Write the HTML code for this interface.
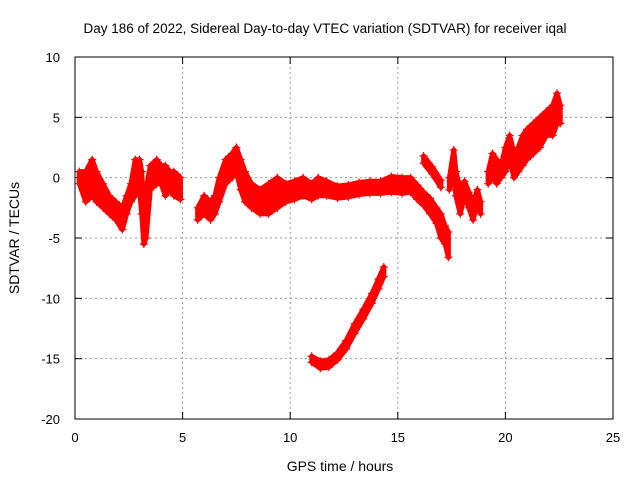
<!DOCTYPE html>
<html><head><meta charset="utf-8"><style>
body{margin:0;background:#fff}
svg{display:block;font-family:"Liberation Sans",sans-serif}
</style></head><body>
<svg id="chart" width="640" height="480" viewBox="0 0 640 480" xmlns="http://www.w3.org/2000/svg">
<text x="325" y="33" font-size="13.5" text-anchor="middle">Day 186 of 2022, Sidereal Day-to-day VTEC variation (SDTVAR) for receiver iqal</text>
<g id="grid"></g>
<g id="ticks"></g>
<g id="series"></g>
<rect x="75" y="57" width="538" height="362" fill="none" stroke="#000" stroke-width="1"/>
<text x="340" y="471" font-size="14" text-anchor="middle">GPS time / hours</text>
<text transform="translate(19,238) rotate(-90)" font-size="14" text-anchor="middle">SDTVAR / TECUs</text>
</svg>
<script>
const xTicks=[0,5,10,15,20,25];
const yTicks=[10,5,0,-5,-10,-15,-20];
// [time, low, high]
const bandA=[[0.2,-0.5,0.5],[0.5,-2,0.5],[0.8,-1.5,1.5],[1.0,-2,0.5],[1.3,-2.5,-0.5],[1.6,-3,-1.5],[1.9,-3.5,-2],[2.2,-4.3,-2.5],[2.4,-3,-1.5],[2.6,-2,-0.5],[2.8,-1.5,1.5],[3.0,-1,1.5],[3.1,-3,0.5],[3.2,-5.5,-3],[3.3,-5,-1],[3.5,-1,1],[3.8,-0.5,1.5],[4.0,-0.5,1],[4.2,-1.5,1],[4.4,-1,0.5],[4.6,-1.5,0.5],[4.9,-1.8,0]];
const bandB=[[5.7,-3.5,-2.5],[6.0,-3,-1.5],[6.3,-3.5,-2],[6.5,-3,-1.5],[6.7,-2,0],[7.0,-0.5,1.5],[7.3,0,2],[7.5,0.5,2.5],[7.7,-1,1.5],[7.9,-2,0.5],[8.2,-2.5,-0.5],[8.6,-3,-1],[9.0,-3,-0.5],[9.4,-2.5,0],[9.8,-2,-0.5],[10.2,-1.8,-0.3],[10.6,-1.5,0],[11.0,-1.8,-0.5],[11.3,-1.5,0],[11.7,-1.5,-0.3],[12.2,-1.7,-0.7],[12.7,-1.6,-0.6],[13.2,-1.4,-0.4],[13.7,-1.3,-0.3],[14.2,-1.3,-0.3],[14.7,-1.2,0.1],[15.2,-1.3,0],[15.6,-1.2,0],[15.9,-1.8,-0.6],[16.2,-2.3,-1.2],[16.5,-3,-1.7],[16.8,-3.8,-2.5],[17.0,-5,-3],[17.2,-5.5,-4],[17.35,-6.6,-4.5]];
const bandC=[[11.0,-15.3,-14.8],[11.4,-15.8,-15.2],[11.8,-15.7,-15.1],[12.2,-15.1,-14.5],[12.6,-14.2,-13.5],[13.0,-12.9,-12.1],[13.4,-11.7,-10.9],[13.8,-10.4,-9.6],[14.1,-9.2,-8.4],[14.35,-8.2,-7.4]];
const bandD=[[16.2,1.2,1.8],[16.6,0.3,0.9],[17.0,-0.8,-0.2]];
const bandE=[[17.4,-1,0],[17.6,0.5,2.3],[17.7,-1.5,0.5],[17.9,-3,-1],[18.1,-1.5,-0.3],[18.3,-2.5,-1.2],[18.5,-3.5,-2],[18.7,-2,-1],[18.85,-3,-2]];
const bandF=[[19.2,-0.5,0.5],[19.4,0,2],[19.6,-0.5,1.5],[19.8,0,1],[20.0,0.5,2.5],[20.2,1.5,3.5],[20.4,0,2],[20.6,0.5,2.5],[20.8,1,3.5],[21.0,1.5,4],[21.3,2,4.5],[21.6,2.5,5],[21.9,3.5,5.5],[22.2,3.5,6],[22.4,4.5,7],[22.55,4.5,6]];
const bands=[bandA,bandB,bandC,bandD,bandE,bandF];
const NS="http://www.w3.org/2000/svg";
const X=t=>75+t*538/25;
const Y=v=>57+(10-v)*362/30;
function mk(tag,at,parent){const e=document.createElementNS(NS,tag);for(const k in at)e.setAttribute(k,at[k]);parent.appendChild(e);return e;}
const grid=document.getElementById('grid'),ticks=document.getElementById('ticks'),series=document.getElementById('series');
xTicks.forEach(t=>{
  if(t>0&&t<25){const l=mk('line',{x1:X(t),x2:X(t),y1:57,y2:419,stroke:'#999','stroke-dasharray':'2,3'},grid);
  
  }
  mk('line',{x1:X(t),x2:X(t),y1:419,y2:412,stroke:'#000'},ticks);
  mk('line',{x1:X(t),x2:X(t),y1:57,y2:64,stroke:'#000'},ticks);
  const tx=mk('text',{x:X(t),y:442,'font-size':13,'text-anchor':'middle'},ticks);tx.textContent=t;
  
  
});
yTicks.forEach(v=>{
  if(v<10&&v>-20){const l=mk('line',{x1:75,x2:613,y1:Y(v),y2:Y(v),stroke:'#999','stroke-dasharray':'2,3'},grid);
  
  }
  mk('line',{x1:75,x2:82,y1:Y(v),y2:Y(v),stroke:'#000'},ticks);
  mk('line',{x1:613,x2:606,y1:Y(v),y2:Y(v),stroke:'#000'},ticks);
  const tx=mk('text',{x:60,y:Y(v)+5,'font-size':13,'text-anchor':'end'},ticks);tx.textContent=v;
  
  
});
bands.forEach(b=>{
  const top=b.map(p=>X(p[0])+','+Y(p[2]));
  const bot=b.slice().reverse().map(p=>X(p[0])+','+Y(p[1]));
  const pg=mk('polygon',{points:top.concat(bot).join(' '),fill:'#f00',stroke:'#f00','stroke-width':5,'stroke-linejoin':'round'},series);
  
  
  b.forEach(p=>{
    [p[1],p[2]].forEach(v=>{
      const x=X(p[0]),y=Y(v);
      const m=mk('path',{d:`M${x-4},${y}h8M${x},${y-4}v8`,stroke:'#f00','stroke-width':1.2},series);
      
      
    });
  });
});
</script>
</body></html>
